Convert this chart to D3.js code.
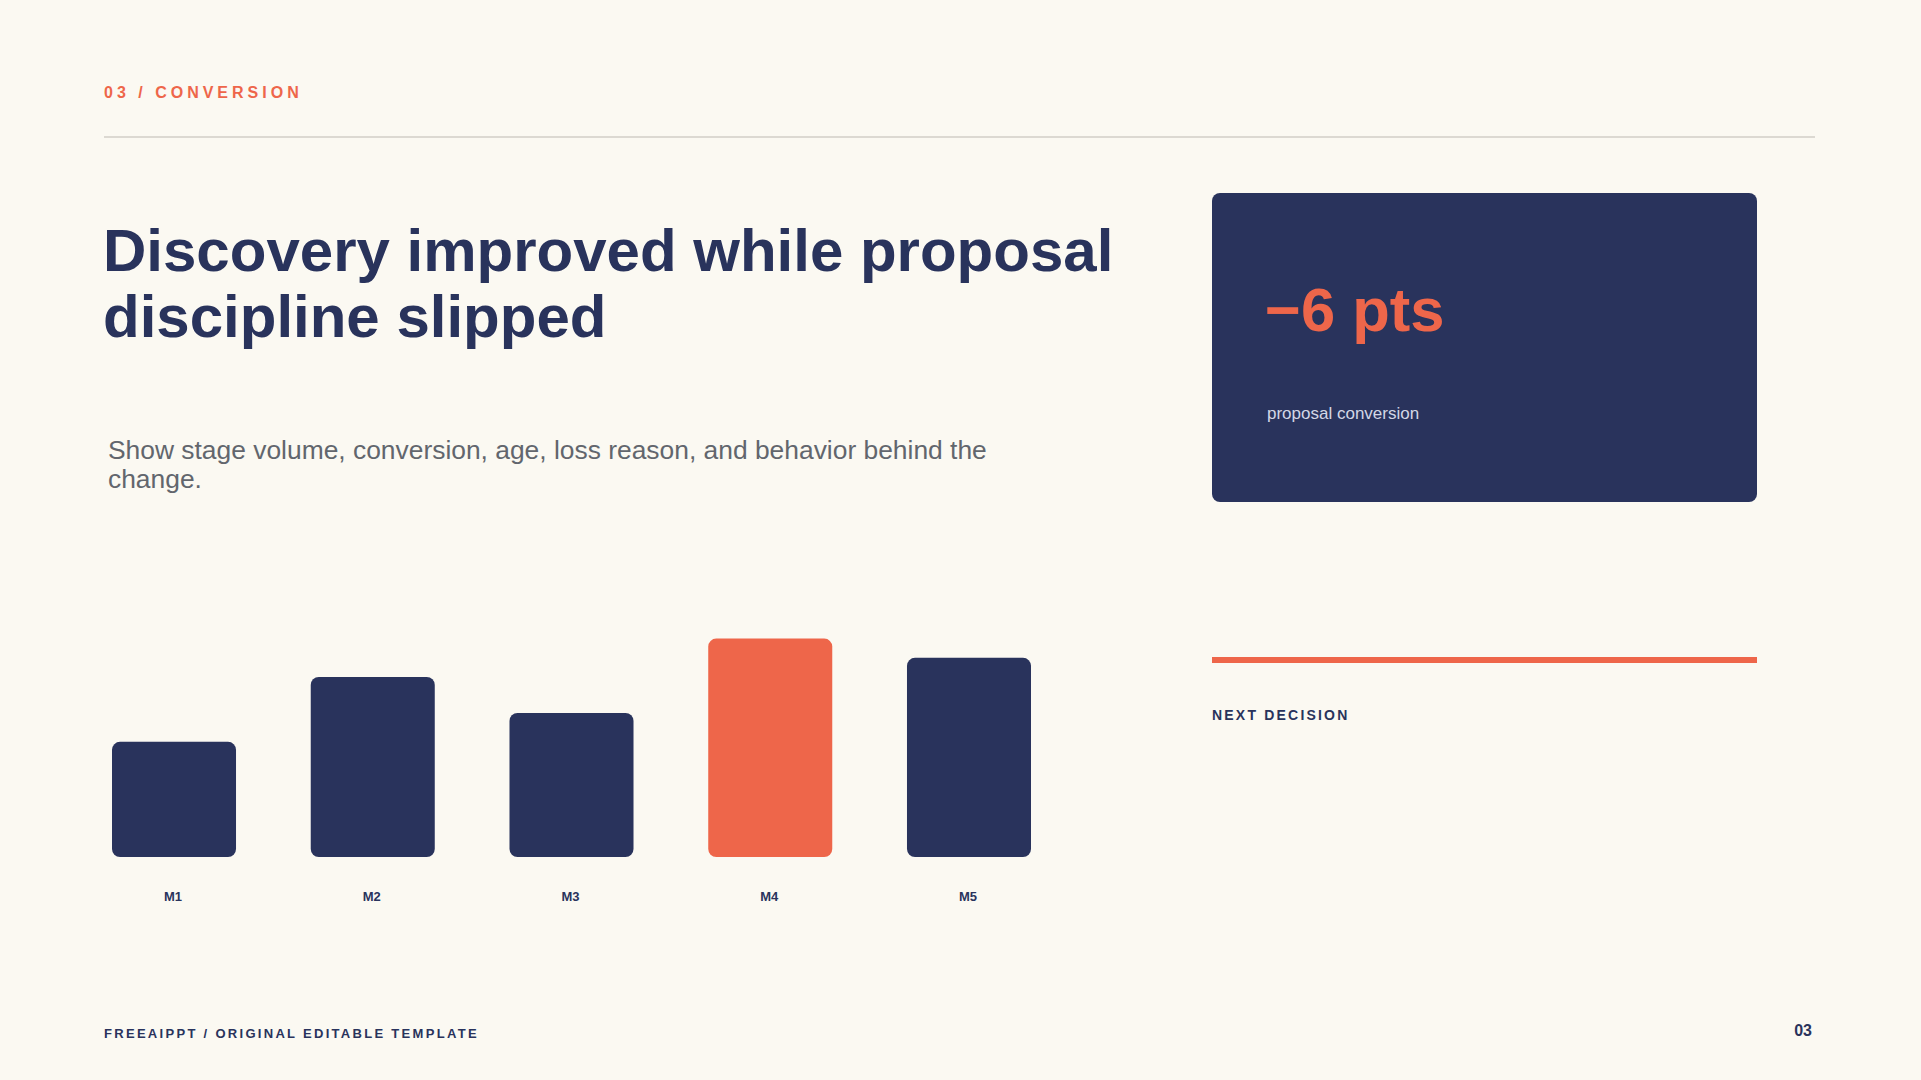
<!DOCTYPE html>
<html>
<head>
<meta charset="utf-8">
<script src="https://cdn.jsdelivr.net/npm/d3@7/dist/d3.min.js"></script>
<style>
  html, body { margin: 0; padding: 0; background: #fbf9f2; }
  svg { display: block; font-family: "Liberation Sans", Arial, Helvetica, sans-serif; }
</style>
</head>
<body>
<svg id="chart" width="1921" height="1080"></svg>
<script>
const months = ["M1", "M2", "M3", "M4", "M5"];
const values = [48, 75, 60, 91, 83];
const highlight = "M4";
const titleLines = ["Discovery improved while proposal", "discipline slipped"];
const subtitleLines = ["Show stage volume, conversion, age, loss reason, and behavior behind the", "change."];
const kicker = "03 / CONVERSION";
const kpiValue = "\u22126 pts";
const kpiLabel = "proposal conversion";
const nextLabel = "NEXT DECISION";
const footer = "FREEAIPPT / ORIGINAL EDITABLE TEMPLATE";
const pageNo = "03";

const NAVY = "#29335c", ORANGE = "#ee664a", BG = "#fbf9f2";
const svg = d3.select("#chart");

svg.append("rect").attr("width", 1921).attr("height", 1080).attr("fill", BG);

// header
svg.append("text").attr("x", 104).attr("y", 98)
  .attr("fill", ORANGE).attr("font-size", 16).attr("font-weight", 700)
  .attr("letter-spacing", "4px").text(kicker);
svg.append("line").attr("x1", 104).attr("x2", 1815).attr("y1", 137).attr("y2", 137)
  .attr("stroke", "#dcd9d2").attr("stroke-width", 2);

// title
const t = svg.append("text").attr("fill", NAVY).attr("font-size", 60).attr("font-weight", 700);
titleLines.forEach((l, i) => t.append("tspan").attr("x", 103).attr("y", 271 + i * 66).text(l));

// subtitle
const s = svg.append("text").attr("fill", "#62666d").attr("font-size", 26.4);
subtitleLines.forEach((l, i) => s.append("tspan").attr("x", 108).attr("y", 459 + i * 29).text(l));

// KPI card
svg.append("rect").attr("x", 1212).attr("y", 193).attr("width", 545).attr("height", 309)
  .attr("rx", 8).attr("fill", NAVY);
svg.append("text").attr("x", 1265).attr("y", 331).attr("fill", ORANGE)
  .attr("font-size", 61.5).attr("font-weight", 700).text(kpiValue);
svg.append("text").attr("x", 1267).attr("y", 419).attr("fill", "#d3d7e6")
  .attr("font-size", 17).text(kpiLabel);

// next decision
svg.append("rect").attr("x", 1212).attr("y", 657).attr("width", 545).attr("height", 6).attr("fill", ORANGE);
svg.append("text").attr("x", 1212).attr("y", 720).attr("fill", NAVY)
  .attr("font-size", 14).attr("font-weight", 700).attr("letter-spacing", "2.2px").text(nextLabel);

// bars
const x = d3.scaleBand().domain(months).range([112, 1031]).paddingInner(0.376).paddingOuter(0);
const y = d3.scaleLinear().domain([0, 100]).range([857, 617]);
const data = months.map((m, i) => ({ m, v: values[i] }));

svg.append("g").selectAll("rect").data(data).join("rect")
  .attr("x", d => x(d.m)).attr("y", d => y(d.v))
  .attr("width", x.bandwidth()).attr("height", d => y(0) - y(d.v))
  .attr("rx", 8).attr("fill", d => d.m === highlight ? ORANGE : NAVY);

const axis = d3.axisBottom(x).tickSize(0).tickPadding(0);
const ag = svg.append("g").attr("transform", "translate(-1,901)").call(axis);
ag.select(".domain").remove();
ag.selectAll("text").attr("dy", 0).attr("fill", NAVY)
  .attr("font-size", 13).attr("font-weight", 700)
  .attr("font-family", "'Liberation Sans', Arial, sans-serif");

// footer
svg.append("text").attr("x", 104).attr("y", 1038).attr("fill", NAVY)
  .attr("font-size", 13).attr("font-weight", 700).attr("letter-spacing", "2.3px").text(footer);
svg.append("text").attr("x", 1812).attr("y", 1036).attr("text-anchor", "end").attr("fill", NAVY)
  .attr("font-size", 16).attr("font-weight", 700).text(pageNo);
</script>
</body>
</html>
